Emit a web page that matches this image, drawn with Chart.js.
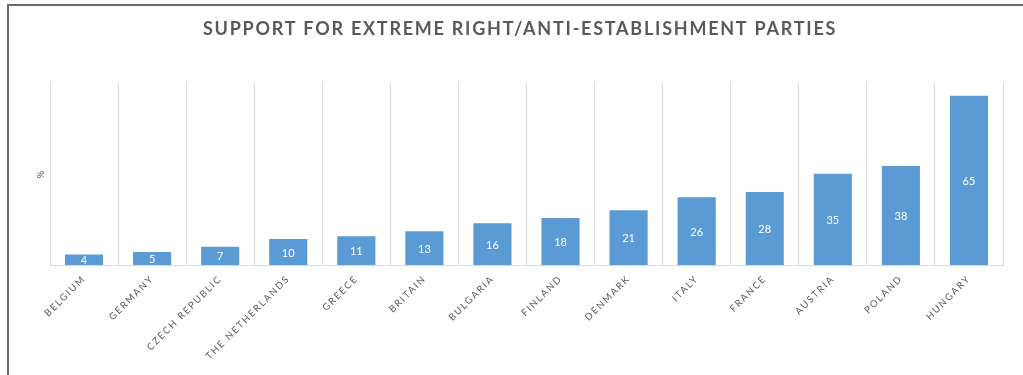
<!DOCTYPE html>
<html>
<head>
<meta charset="utf-8">
<script src="https://cdn.jsdelivr.net/npm/chart.js@4.4.1/dist/chart.umd.min.js"></script>
<style>
  html, body { margin: 0; padding: 0; background: #ffffff; overflow: hidden; width: 1023px; height: 375px; }
  #frame { position: absolute; left: 7px; top: 4px; width: 1040px; height: 400px; border-left: 2px solid #6a6a6a; border-top: 2px solid #6a6a6a; box-sizing: border-box; }
  #c { position: absolute; left: 9px; top: 6px; }
</style>
</head>
<body>
<div id="frame"></div>
<canvas id="c" width="1022" height="369"></canvas>
<script>
const chartTitle = 'SUPPORT FOR EXTREME RIGHT/ANTI-ESTABLISHMENT PARTIES';
const categories = ['BELGIUM', 'GERMANY', 'CZECH REPUBLIC', 'THE NETHERLANDS', 'GREECE', 'BRITAIN', 'BULGARIA', 'FINLAND', 'DENMARK', 'ITALY', 'FRANCE', 'AUSTRIA', 'POLAND', 'HUNGARY'];
const supportValues = [4, 5, 7, 10, 11, 13, 16, 18, 21, 26, 28, 35, 38, 65];
const yAxisTitle = '%';
const yMin = 0;
const yMax = 70;

const spacingPlugin = {
  id: 'spacing',
  afterInit(chart) {
    const tb = chart.titleBlock;
    if (tb && !tb._wrapped) {
      const orig = tb.draw;
      tb.draw = function () {
        const c = this.ctx;
        c.save();
        c.letterSpacing = '1.75px';
        orig.apply(this, arguments);
        c.restore();
      };
      tb._wrapped = true;
    }
  },
  beforeUpdate(chart) { chart.ctx.letterSpacing = '1.7px'; },
  beforeDraw(chart) { chart.ctx.letterSpacing = '1.7px'; }
};

const valueLabels = {
  id: 'valueLabels',
  afterDatasetsDraw(chart) {
    const ctx = chart.ctx;
    const meta = chart.getDatasetMeta(0);
    ctx.save();
    ctx.letterSpacing = '0px';
    ctx.font = '11px Lato';
    ctx.fillStyle = '#ffffff';
    ctx.textAlign = 'center';
    ctx.textBaseline = 'middle';
    meta.data.forEach((bar, i) => {
      ctx.fillText(String(supportValues[i]), bar.x, (bar.y + bar.base) / 2 + 1);
    });
    ctx.restore();
  }
};

new Chart(document.getElementById('c'), {
  type: 'bar',
  data: {
    labels: categories,
    datasets: [{
      data: supportValues,
      backgroundColor: '#5b9bd5',
      barPercentage: 0.56,
      categoryPercentage: 1.0
    }]
  },
  plugins: [spacingPlugin, valueLabels],
  options: {
    responsive: false,
    animation: false,
    layout: { padding: { left: 28, right: 28, top: 0, bottom: 0 } },
    plugins: {
      legend: { display: false },
      tooltip: { enabled: false },
      title: {
        display: true,
        text: chartTitle,
        color: '#595959',
        font: { family: 'Lato', size: 18, weight: 'bold' },
        padding: { top: 12, bottom: 43 }
      }
    },
    scales: {
      x: {
        grid: { color: '#d9d9d9', drawTicks: false, offset: true },
        border: { color: '#d9d9d9' },
        ticks: {
          color: '#595959',
          font: { family: 'Lato', size: 9.5 },
          minRotation: 45,
          maxRotation: 45,
          autoSkip: false,
          padding: 8
        },
        afterFit(s) { s.height = 110; }
      },
      y: {
        min: yMin,
        max: yMax,
        ticks: { display: false },
        grid: { display: false },
        border: { display: false },
        title: {
          display: true,
          text: yAxisTitle,
          color: '#595959',
          font: { family: 'Lato', size: 10 },
          padding: { top: -2, bottom: 0 }
        },
        afterFit(s) { s.width = 13; }
      }
    }
  }
});
</script>
</body>
</html>
